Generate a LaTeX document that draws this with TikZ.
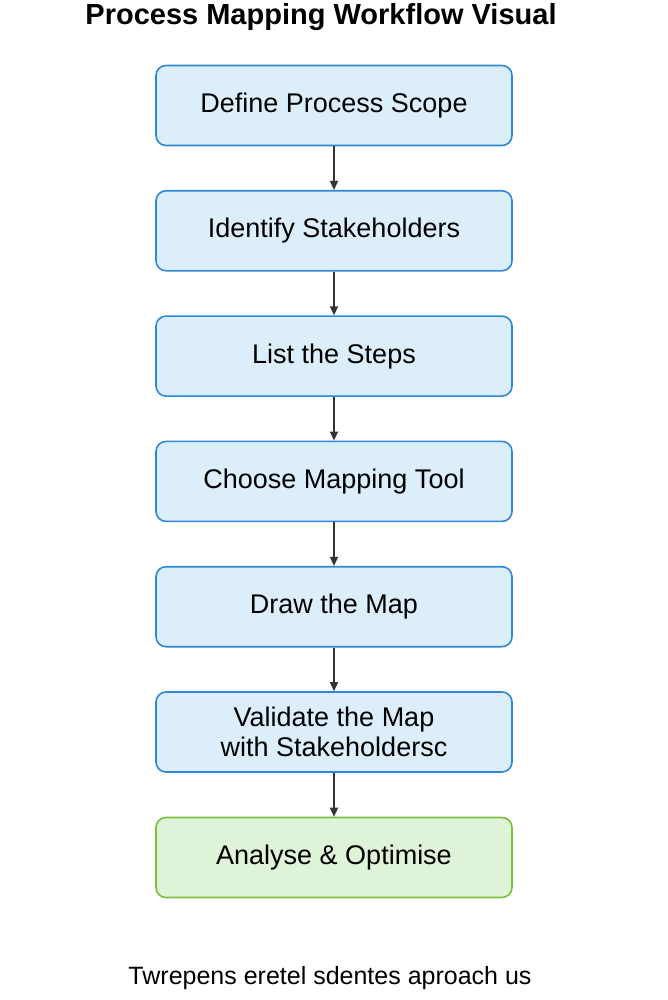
\documentclass[tikz,border=0pt]{standalone}
\usepackage{fontspec}
\setmainfont{Liberation Sans}
\usetikzlibrary{arrows.meta}

\definecolor{stepfill}{HTML}{DDEEFB}
\definecolor{stepline}{HTML}{2E88DA}
\definecolor{endfill}{HTML}{DFF3D8}
\definecolor{endline}{HTML}{7DBE3C}
\definecolor{arrowcol}{HTML}{333333}

\tikzset{
	stepbox/.style={draw=stepline, fill=stepfill, line width=1.6pt, rounded corners=10pt,
		minimum width=356pt, minimum height=80pt, align=center, font=\fontsize{27}{30}\selectfont},
	endbox/.style={stepbox, draw=endline, fill=endfill},
	flow/.style={draw=arrowcol, line width=1.4pt, -{Triangle[length=9pt,width=8pt]}},
}

\begin{document}
\begin{tikzpicture}[x=1pt,y=-1pt] % 手順の流れ
\useasboundingbox (0,0) rectangle (667,1000);
\node[anchor=base] (title) at (321,25) {\fontsize{29}{34}\selectfont\bfseries Process Mapping Workflow Visual};
\foreach \n/\txt in%
{%
	1/Define Process Scope,%
	2/Identify Stakeholders,%
	3/List the Steps,%
	4/Choose Mapping Tool,%
	5/Draw the Map,%
	6/{Validate the Map\\ with Stakeholdersc}%
}{%
	\node[stepbox] (step\n) at (334,{105.5+125.3*(\n-1)}) {\txt};
}%
\node[endbox] (step7) at (334,857.5) {Analyse \& Optimise};
\foreach \a/\b in%
{%
	1/2,2/3,3/4,4/5,5/6,6/7%
}{%
	\draw[flow] (step\a.south) -- (step\b.north);
}%
\node (note) at (330,978) {\fontsize{25}{28}\selectfont Twrepens eretel sdentes aproach us};
\end{tikzpicture}
\end{document}
